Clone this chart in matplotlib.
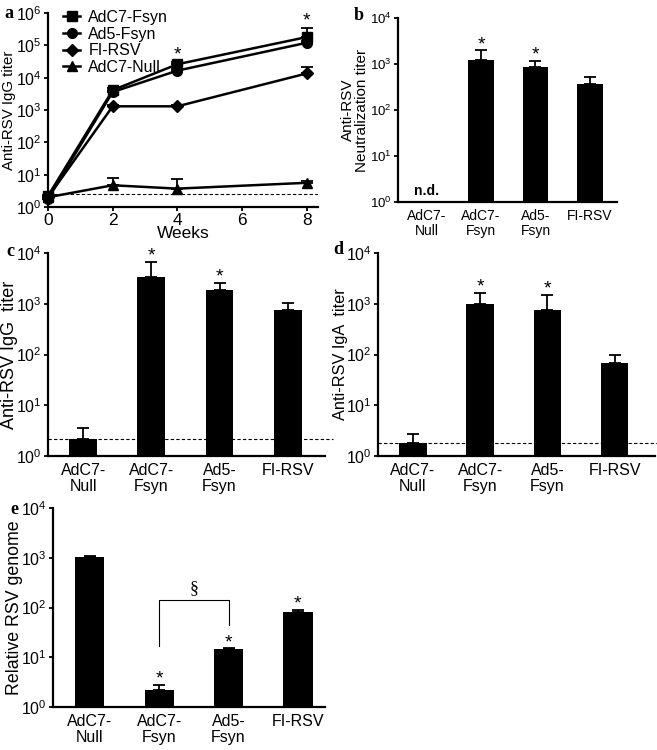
import numpy as np
import matplotlib
matplotlib.use("Agg")
import matplotlib.pyplot as plt
from matplotlib.lines import Line2D

plt.rcParams["font.family"] = ["Liberation Sans Narrow", "Liberation Sans", "DejaVu Sans"]
plt.rcParams["mathtext.fontset"] = "custom"
plt.rcParams["mathtext.rm"] = "Liberation Sans Narrow"
plt.rcParams["mathtext.it"] = "Liberation Sans Narrow:italic"

# ---- panel a: time course ----
weeks = [0, 2, 4, 8]
a_series = ["AdC7-Fsyn", "Ad5-Fsyn", "FI-RSV", "AdC7-Null"]
a_markers = ["s", "o", "D", "^"]
a_adc7_fsyn = [2.2, 4100, 26000, 180000]
a_adc7_fsyn_err = [0, 600, 4000, 160000]
a_ad5_fsyn = [1.8, 3600, 16500, 120000]
a_ad5_fsyn_err = [0, 400, 2000, 20000]
a_fi_rsv = [2.0, 1300, 1300, 13500]
a_fi_rsv_err = [0, 100, 100, 8500]
a_adc7_null = [2.0, 4.7, 3.7, 5.6]
a_adc7_null_err = [0.3, 3.1, 3.6, 0.8]
a_cutoff = 2.5
a_star_weeks = [4, 8]
a_star_vals = [50000, 550000]

# ---- bar panels ----
groups = ["AdC7-\nNull", "AdC7-\nFsyn", "Ad5-\nFsyn", "FI-RSV"]

b_vals = [np.nan, 1200, 840, 363]
b_err = [0, 770, 330, 150]
b_stars = [False, True, True, False]

c_vals = [2.16, 3430, 1890, 740]
c_err = [1.4, 3200, 660, 310]
c_stars = [False, True, True, False]
c_cutoff = 2.2

d_vals = [1.78, 1000, 760, 67]
d_err = [0.9, 660, 740, 33]
d_stars = [False, True, True, False]
d_cutoff = 1.83

e_vals = [1030, 2.2, 14.4, 83]
e_err = [70, 0.6, 0.6, 7]
e_stars = [False, True, True, True]

W, H = 657, 750
fig = plt.figure(figsize=(W / 100, H / 100), dpi=100)


def px_axes(l, t, r, b):
    ax = fig.add_axes([l / W, 1 - b / H, (r - l) / W, (b - t) / H])
    ax._px = (l, r)
    return ax


def place_ylabel(ax, xpx):
    # xpx is the right edge of the rotated label, in pixels
    l, r = ax._px
    ax.yaxis.set_label_coords((xpx - l) / (r - l), 0.5)


def style_axes(ax, fs, decades):
    for s in ["top", "right"]:
        ax.spines[s].set_visible(False)
    for s in ["left", "bottom"]:
        ax.spines[s].set_linewidth(1.6)
    ax.set_yticks([10.0 ** k for k in range(decades + 1)])
    ax.tick_params(axis="y", which="major", length=3, width=1.3, labelsize=fs, pad=1.5)
    ax.tick_params(axis="y", which="minor", length=0)
    ax.yaxis.set_minor_locator(plt.NullLocator())


def bar_panel(ax, vals, err, stars, ylabel, fs_y, fs_lab, fs_x, width, xlim,
              label_x, cutoff=None):
    x = np.arange(len(groups))
    vals = np.array(vals, dtype=float)
    err = np.array(err, dtype=float)
    ok = ~np.isnan(vals)
    ax.bar(x[ok], vals[ok], width=width, color="black", zorder=2)
    ax.errorbar(x[ok], vals[ok], yerr=[np.zeros(ok.sum()), err[ok]], fmt="none",
                ecolor="black", elinewidth=1.3, capsize=4, capthick=1.3, zorder=1)
    ax.set_yscale("log")
    ax.set_ylim(1, 1e4)
    ax.set_xlim(*xlim)
    ax.set_xticks(x)
    ax.set_xticklabels(groups, fontsize=fs_x, linespacing=1.1)
    ax.tick_params(axis="x", length=0, pad=5)
    style_axes(ax, fs_y, 4)
    ax.set_ylabel(ylabel, fontsize=fs_lab, linespacing=1.0)
    place_ylabel(ax, label_x)
    if cutoff is not None:
        ax.axhline(cutoff, color="black", lw=0.8, ls=(0, (3, 2)), zorder=3, clip_on=False,
                   xmin=0, xmax=1.03)
    for xi, v, e, s in zip(x, vals, err, stars):
        if s:
            ax.annotate("*", (xi, v + e), xytext=(0, -2), textcoords="offset points",
                        ha="center", va="bottom", fontsize=14)


# panel a
ax = px_axes(48, 13, 318, 207)
a_vals = [a_adc7_fsyn, a_ad5_fsyn, a_fi_rsv, a_adc7_null]
a_errs = [a_adc7_fsyn_err, a_ad5_fsyn_err, a_fi_rsv_err, a_adc7_null_err]
handles = []
for name, mk, v, e in zip(a_series, a_markers, a_vals, a_errs):
    ms = 7 if mk != "D" else 6
    ax.errorbar(weeks, v, yerr=[np.zeros(len(v)), e], color="black", marker=mk,
                ms=ms, lw=1.8, elinewidth=1.3, capsize=4,
                capthick=1.3, clip_on=False, zorder=3)
    handles.append(Line2D([], [], color="black", marker=mk, ms=ms, lw=1.8, label=name))
ax.axhline(a_cutoff, color="black", lw=0.8, ls=(0, (3, 2)), zorder=1)
for wk, sv in zip(a_star_weeks, a_star_vals):
    ax.text(wk, sv, "*", ha="center", va="center", fontsize=14)
ax.set_yscale("log")
ax.set_ylim(1, 1e6)
ax.set_xlim(0, 8.35)
ax.set_xticks([0, 2, 4, 6, 8])
style_axes(ax, 11.5, 6)
ax.tick_params(axis="x", labelsize=12.5, length=3, width=1.3, pad=1)
ax.set_xlabel("Weeks", fontsize=12.5, labelpad=-1)
ax.set_ylabel("Anti-RSV IgG titer", fontsize=10.8)
place_ylabel(ax, 16)
ax.legend(handles=handles, loc="upper left", bbox_to_anchor=(0.055, 1.015),
          frameon=False, fontsize=11.5, handlelength=1.1, handletextpad=0.5,
          labelspacing=0.1, borderaxespad=0, borderpad=0)

# panel b
ax = px_axes(398, 18, 617, 202)
bar_panel(ax, b_vals, b_err, b_stars, "Anti-RSV\nNeutralization titer", 9.5, 11, 10,
          0.47, (-0.53, 3.5), 369)
ax.text(0, 1.2, "n.d.", ha="center", va="bottom", fontsize=10, fontweight="bold")

# panel c
ax = px_axes(48, 253, 325, 456)
bar_panel(ax, c_vals, c_err, c_stars, "Anti-RSV IgG  titer", 11.5, 13, 11.5, 0.41,
          (-0.52, 3.55), 18, c_cutoff)

# panel d
ax = px_axes(378, 253, 655, 456)
bar_panel(ax, d_vals, d_err, d_stars, "Anti-RSV IgA  titer", 11.5, 11.8, 11.5, 0.41,
          (-0.52, 3.6), 348, d_cutoff)

# panel e
ax = px_axes(53, 508, 325, 707)
bar_panel(ax, e_vals, e_err, e_stars, "Relative RSV genome", 11.5, 12.8, 11.5, 0.42,
          (-0.53, 3.39), 23)
ax.plot([1, 1, 2, 2], [17, 144, 144, 44], color="black", lw=0.8)
ax.text(1.5, 165, "\u00a7", ha="center", va="bottom", fontsize=13,
        family="Liberation Serif")

# panel letters
for lab, xp, yp in [("a", 9, 13), ("b", 359, 16), ("c", 10, 251), ("d", 338, 250),
                    ("e", 14, 509)]:
    fig.text(xp / W, 1 - yp / H, lab, ha="center", va="center", fontsize=13,
             fontweight="bold", family="Liberation Serif")

fig.savefig("out.png", dpi=100)
